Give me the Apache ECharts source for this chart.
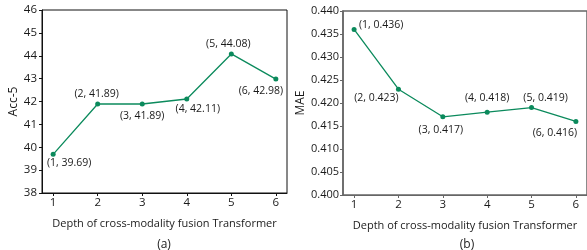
<!DOCTYPE html>
<html>
<head>
	<meta charset="utf-8">
	<title>Depth of fusion Transformer</title>
	<script src="https://cdn.jsdelivr.net/npm/echarts@6/dist/echarts.min.js"></script>
</head>
<body style="margin:0">
	<div id="main" style="width:587px;height:250px"></div>
	<script type="text/javascript">
var depths = [1, 2, 3, 4, 5, 6];
var acc5 = [39.69, 41.89, 41.89, 42.11, 44.08, 42.98];
var mae = [0.436, 0.423, 0.417, 0.418, 0.419, 0.416];
var accTicks = [38, 39, 40, 41, 42, 43, 44, 45, 46];
var maeTicks = ['0.400', '0.405', '0.410', '0.415', '0.420', '0.425', '0.430', '0.435', '0.440'];

// label offsets for each point, [dx, dy] from the point
var accOffsets = [[16, 9], [-1, -10], [0, 12], [11, 10], [-3, -10], [-15, 12]];
var maeOffsets = [[27, -4], [-22, 9], [-2, 13], [0, -14], [14, -10], [-21, 12]];

var green = '#0b8a5c';
var font = 'Open Sans';
var ink = '#1a1a1a';

var myChart = echarts.init(document.getElementById('main'));

function points(ys, offsets, fmt) {
    return depths.map(function (d, i) {
        return {
            value: [d, ys[i]],
            label: {
                show: true,
                position: 'inside',
                offset: offsets[i],
                formatter: '(' + d + ', ' + fmt(ys[i]) + ')'
            }
        };
    });
}

function xAxis(idx, color) {
    return {
        type: 'value', gridIndex: idx, min: 0.75, max: 6.25,
        name: 'Depth of cross-modality fusion Transformer',
        nameLocation: 'middle', nameGap: 25,
        nameTextStyle: { fontFamily: font, fontSize: 11, color: ink },
        splitLine: { show: false },
        axisLine: { lineStyle: { color: color } },
        axisTick: { customValues: depths, length: 3, lineStyle: { color: color } },
        axisLabel: { customValues: depths, fontFamily: font, fontSize: 11.5, color: ink, margin: 4 }
    };
}

var option = {
    animation: false,
    title: [
        { text: '(a)', left: 159, top: 234, textAlign: 'center',
          textStyle: { fontFamily: font, fontSize: 12, fontWeight: 'normal', color: ink } },
        { text: '(b)', left: 462, top: 234, textAlign: 'center',
          textStyle: { fontFamily: font, fontSize: 12, fontWeight: 'normal', color: ink } }
    ],
    grid: [
        { left: 42, top: 10, width: 245, height: 183, show: true, borderColor: '#111', borderWidth: 1 },
        { left: 343, top: 11, width: 245, height: 184, show: true, borderColor: '#666', borderWidth: 1.5 }
    ],
    xAxis: [xAxis(0, '#111'), xAxis(1, '#666')],
    yAxis: [
        {
            type: 'value', gridIndex: 0, min: accTicks[0], max: accTicks[accTicks.length - 1], interval: 1,
            name: 'Acc-5', nameLocation: 'middle', nameGap: 22,
            nameTextStyle: { fontFamily: font, fontSize: 12, color: ink },
            splitLine: { show: false },
            axisLine: { show: true, lineStyle: { color: '#111' } },
            axisTick: { show: true, length: 3, lineStyle: { color: '#111' } },
            axisLabel: { fontFamily: font, fontSize: 11.5, color: ink, margin: 5 }
        },
        {
            type: 'value', gridIndex: 1, min: Number(maeTicks[0]), max: Number(maeTicks[maeTicks.length - 1]), interval: 0.005,
            name: 'MAE', nameLocation: 'middle', nameGap: 33,
            nameTextStyle: { fontFamily: font, fontSize: 12, color: ink },
            splitLine: { show: false },
            axisLine: { show: true, lineStyle: { color: '#666', width: 1.5 } },
            axisTick: { show: true, length: 3, lineStyle: { color: '#666' } },
            axisLabel: { fontFamily: font, fontSize: 11, color: ink, margin: 4,
                formatter: function (v) { return v.toFixed(3); } }
        }
    ],
    series: [
        {
            type: 'line', xAxisIndex: 0, yAxisIndex: 0,
            data: points(acc5, accOffsets, function (v) { return v.toFixed(2); }),
            symbol: 'circle', symbolSize: 5,
            lineStyle: { color: green, width: 1.3 },
            itemStyle: { color: green },
            label: { fontFamily: font, fontSize: 10.5, color: ink }
        },
        {
            type: 'line', xAxisIndex: 1, yAxisIndex: 1,
            data: points(mae, maeOffsets, function (v) { return v.toFixed(3); }),
            symbol: 'circle', symbolSize: 5,
            lineStyle: { color: green, width: 1.3 },
            itemStyle: { color: green },
            label: { fontFamily: font, fontSize: 10.5, color: ink }
        }
    ]
};

myChart.setOption(option);
	</script>
</body>
</html>
